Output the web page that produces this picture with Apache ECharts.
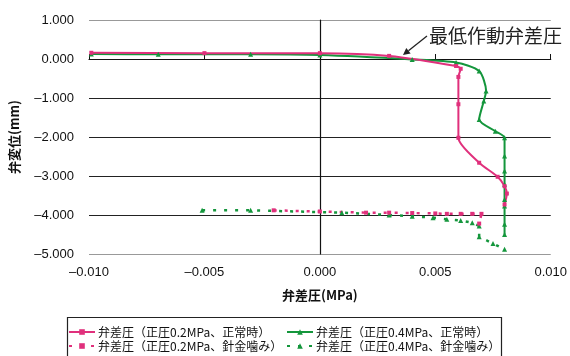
<!DOCTYPE html>
<html>
<head>
<meta charset="utf-8">
<script src="https://cdn.jsdelivr.net/npm/echarts@6/dist/echarts.min.js"></script>
<style>
  html, body { margin: 0; padding: 0; background: #fff; }
  #chart { width: 570px; height: 356px; }
</style>
</head>
<body>
<div id="chart"></div>
<script>
// Valve differential pressure (MPa) vs. valve displacement (mm)
const seriesNames = [
  '弁差圧（正圧0.2MPa、正常時）',
  '弁差圧（正圧0.4MPa、正常時）',
  '弁差圧（正圧0.2MPa、針金噛み）',
  '弁差圧（正圧0.4MPa、針金噛み）'
];

// 0.2 MPa, normal
const p02NormalX = [-0.0099, -0.0050, 0.0000, 0.0030, 0.0059, 0.0061, 0.0060, 0.0060, 0.0060, 0.0069, 0.0077, 0.0080, 0.0081, 0.0080];
const p02NormalY = [0.16, 0.15, 0.15, 0.08, -0.18, -0.25, -0.46, -1.16, -2.02, -2.66, -3.02, -3.26, -3.45, -3.73];

// 0.4 MPa, normal
const p04NormalX = [-0.0099, -0.0070, -0.0030, 0.0000, 0.0040, 0.0059, 0.0069, 0.0072, 0.0071, 0.0069, 0.0076, 0.0080, 0.0080, 0.0080, 0.0080, 0.0080, 0.0080, 0.0080, 0.0080];
const p04NormalY = [0.13, 0.12, 0.12, 0.10, -0.01, -0.09, -0.31, -0.82, -1.08, -1.55, -1.85, -2.02, -2.49, -2.87, -3.21, -3.60, -3.77, -4.24, -4.50];

// 0.2 MPa, wire caught in valve
const p02WireX = [-0.0020, 0.0000, 0.0020, 0.0030, 0.0040, 0.0050, 0.0055, 0.0061, 0.0066, 0.0070, 0.0069];
const p02WireY = [-3.88, -3.91, -3.94, -3.94, -3.95, -3.96, -3.97, -3.97, -3.97, -3.97, -4.22];

// 0.4 MPa, wire caught in valve
const p04WireX = [-0.0051, -0.0030, 0.00095, 0.0030, 0.0040, 0.0049, 0.0055, 0.0061, 0.0066, 0.0069, 0.0069, 0.0075, 0.0080];
const p04WireY = [-3.88, -3.88, -3.94, -4.00, -4.03, -4.07, -4.11, -4.14, -4.20, -4.28, -4.56, -4.73, -4.88];

const xMin = -0.010, xMax = 0.010, xStep = 0.005;
const yMin = -5, yMax = 1, yStep = 1;

const annotationText = '最低作動弁差圧';
const annotationPoint = [0.0036, 0.10];

const PINK = '#e0307c';
const GREEN = '#14963c';
const FONT = '"Liberation Sans", "Noto Sans CJK JP", sans-serif';
const CJK = '"Noto Sans CJK JP", "Liberation Sans", sans-serif';

const zip = (xs, ys) => xs.map((x, i) => [x, ys[i]]);
const fmt = v => (v < 0 ? '\u2013' : '') + Math.abs(v).toFixed(3);

const chart = echarts.init(document.getElementById('chart'));

function lineSeries(name, xs, ys, color, symbol, dotted, smooth) {
  return {
    name: name,
    type: 'line',
    xAxisIndex: 0,
    yAxisIndex: 0,
    data: zip(xs, ys),
    smooth: smooth,
    symbol: symbol,
    symbolSize: symbol === 'rect' ? 4 : 5,
    showAllSymbol: true,
    color: color,
    itemStyle: { color: color },
    lineStyle: dotted
      ? { color: color, width: 2.5, type: [3, 8] }
      : { color: color, width: 2 },
    animation: false
  };
}

const legendCommon = {
  orient: 'vertical',
  top: 325,
  padding: 0,
  itemGap: 0,
  itemWidth: 26,
  itemHeight: 7,
  textStyle: { fontFamily: CJK, fontSize: 12, lineHeight: 14, color: '#111', padding: [0, 0, 0, -2] },
  selectedMode: false
};

chart.setOption({
  animation: false,
  backgroundColor: '#fff',
  grid: { left: 88, right: 13, top: 20, bottom: 102 },
  xAxis: [
    {
      type: 'value', min: xMin, max: xMax, interval: xStep,
      position: 'bottom',
      name: '弁差圧(MPa)', nameLocation: 'middle', nameGap: 35,
      nameTextStyle: { fontFamily: CJK, fontSize: 13, fontWeight: 'bold', color: '#111' },
      axisLine: { show: false, onZero: false },
      axisTick: { show: false },
      axisLabel: { formatter: fmt, fontFamily: FONT, fontSize: 13, color: '#111', margin: 12 },
      splitLine: { show: false }
    },
    {
      type: 'value', min: xMin, max: xMax, interval: xStep,
      position: 'bottom',
      axisLine: { show: true, onZero: true, lineStyle: { color: '#111', width: 1.2 } },
      axisTick: { show: true, inside: true, length: 5, lineStyle: { color: '#111' } },
      axisLabel: { show: false },
      splitLine: { show: false }
    }
  ],
  yAxis: [
    {
      type: 'value', min: yMin, max: yMax, interval: yStep,
      position: 'left',
      name: '弁変位(mm)', nameLocation: 'middle', nameGap: 68, nameRotate: 90,
      nameTextStyle: { fontFamily: CJK, fontSize: 13, fontWeight: 'bold', color: '#111' },
      axisLine: { show: false, onZero: false },
      axisTick: { show: false },
      axisLabel: { formatter: fmt, fontFamily: FONT, fontSize: 13, color: '#111', margin: 15 },
      splitLine: {
        show: true,
        lineStyle: { color: ['#999', '#222', '#222', '#222', '#222', '#222', '#999'], width: 1.2 }
      }
    },
    {
      type: 'value', min: yMin, max: yMax, interval: yStep,
      position: 'left',
      axisLine: { show: true, onZero: true, lineStyle: { color: '#111', width: 1.2 } },
      axisTick: { show: false },
      axisLabel: { show: false },
      splitLine: { show: false }
    }
  ],
  legend: [
    Object.assign({ left: 68, data: [seriesNames[0], seriesNames[2]] }, legendCommon),
    Object.assign({ left: 286, data: [seriesNames[1], seriesNames[3]] }, legendCommon)
  ],
  series: [
    lineSeries(seriesNames[1], p04NormalX, p04NormalY, GREEN, 'triangle', false, 0.25),
    lineSeries(seriesNames[0], p02NormalX, p02NormalY, PINK, 'rect', false, 0.25),
    lineSeries(seriesNames[3], p04WireX, p04WireY, GREEN, 'triangle', true, false),
    lineSeries(seriesNames[2], p02WireX, p02WireY, PINK, 'rect', true, false)
  ]
});

// Legend frame and the "minimum operating differential pressure" callout
const tip = chart.convertToPixel({ xAxisIndex: 0, yAxisIndex: 0 }, annotationPoint);
const tail = [tip[0] + 24, tip[1] - 19];
const ang = Math.atan2(tip[1] - tail[1], tip[0] - tail[0]);
const headLen = 7, headW = 3.5;
const hb = [tip[0] - headLen * Math.cos(ang), tip[1] - headLen * Math.sin(ang)];
const head = [
  tip,
  [hb[0] + headW * Math.sin(ang), hb[1] - headW * Math.cos(ang)],
  [hb[0] - headW * Math.sin(ang), hb[1] + headW * Math.cos(ang)]
];

chart.setOption({
  graphic: [
    {
      type: 'rect', left: 65, top: 315, z: 0,
      shape: { width: 434, height: 42 },
      style: { fill: 'none', stroke: '#222', lineWidth: 1.2 }
    },
    {
      type: 'line', z: 10,
      shape: { x1: tail[0], y1: tail[1], x2: hb[0], y2: hb[1] },
      style: { stroke: '#222', lineWidth: 1.3 }
    },
    {
      type: 'polygon', z: 10,
      shape: { points: head },
      style: { fill: '#222' }
    },
    {
      type: 'text', z: 10,
      x: tail[0] + 2, y: tail[1] - 10,
      style: {
        text: annotationText,
        fontFamily: CJK, fontSize: 19, fill: '#222',
        verticalAlign: 'top', align: 'left'
      }
    }
  ]
});
</script>
</body>
</html>
